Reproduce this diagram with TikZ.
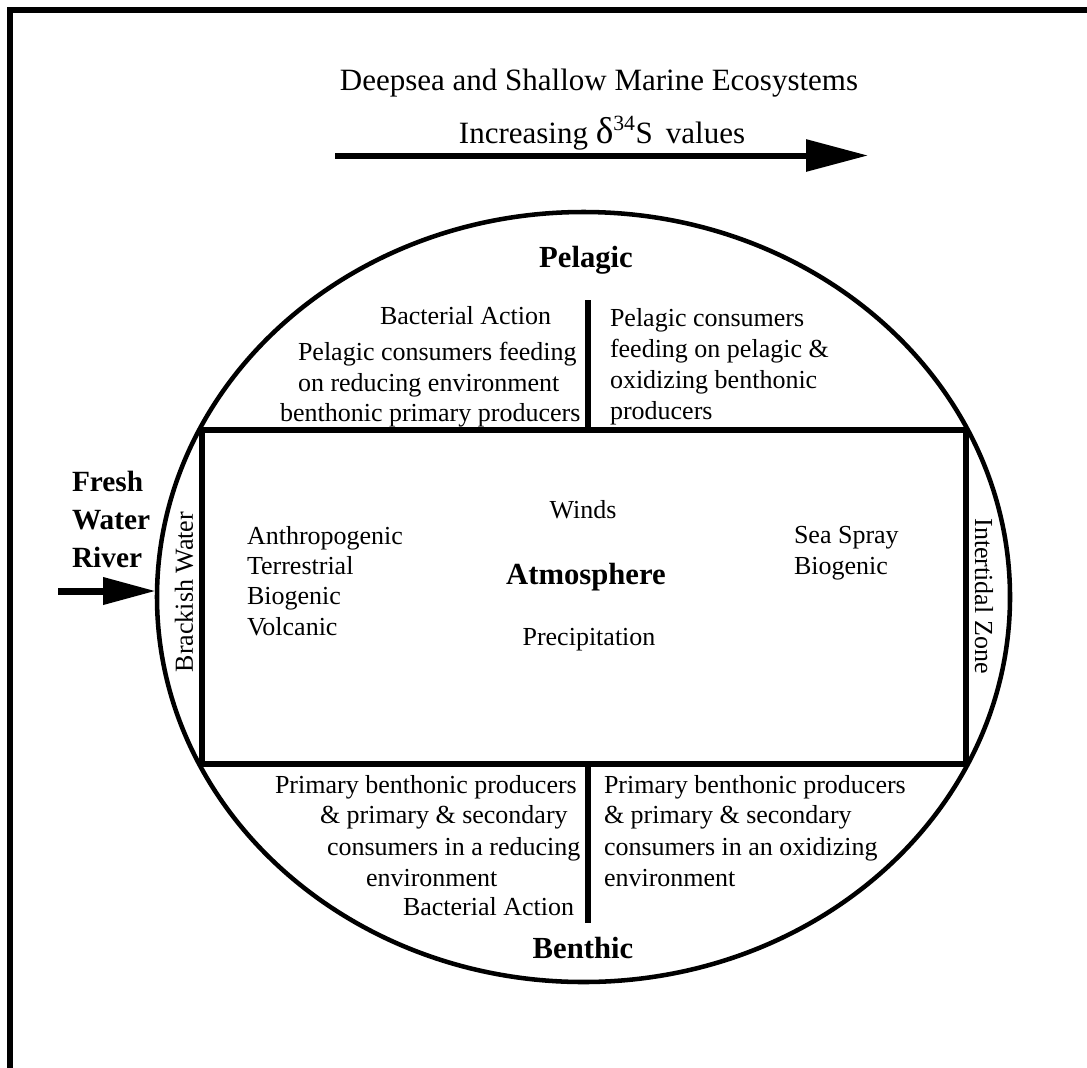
\documentclass[tikz,border=0pt]{standalone}
\usepackage{fontspec}
\setmainfont{Liberation Serif}
\usetikzlibrary{arrows.meta}
\begin{document}
\begin{tikzpicture}[x=0.75pt,y=-0.75pt,
  reg/.style={font=\fontsize{19.5}{23}\selectfont, inner sep=0pt, outer sep=0pt},
  headb/.style={font=\fontsize{23}{27}\selectfont\bfseries, inner sep=0pt, outer sep=0pt},
  riverb/.style={font=\fontsize{22}{27}\selectfont\bfseries, inner sep=0pt, outer sep=0pt},
  ttl/.style={font=\fontsize{23.25}{28}\selectfont, inner sep=0pt, outer sep=0pt},
  frameline/.style={line width=4.5pt},
  ringline/.style={line width=3.4pt},
  boxline/.style={line width=4.5pt},
  divline/.style={line width=3.8pt},
  bigarrow/.style={line width=4.5pt, -{Triangle[length=46.5pt,width=23.25pt]}},
  riverarrow/.style={line width=5.25pt, -{Triangle[length=39.75pt,width=19.5pt]}}]
\useasboundingbox (0,0) rectangle (1087,1067);
\fill[white] (0,0) rectangle (1087,1067);
% outer frame (top and left edges visible)
\draw[frameline] (9.5,1075) -- (9.5,10) -- (1095,10);
% title and arrow
\node[ttl, anchor=base] (title) at (599,90) {Deepsea and Shallow Marine Ecosystems};
\node[ttl, anchor=base] (incr) at (602,143) {Increasing {\fontsize{28}{28}\selectfont δ}\textsuperscript{34}S\, values};
\coordinate (arrS) at (335,155.5);
\coordinate (arrE) at (868,155.5);
\draw[bigarrow] (arrS) -- (arrE);
% ellipse
\draw[ringline] (583.5,597) ellipse [x radius=426.5, y radius=385];
% atmosphere box
\coordinate (boxNW) at (202,430);
\coordinate (boxSE) at (966,764);
\draw[boxline] (boxNW) rectangle (boxSE);
% dividers
\coordinate (dtA) at (588,300);
\coordinate (dtB) at (588,430);
\coordinate (dbA) at (588,764);
\coordinate (dbB) at (588,923);
\draw[divline] (dtA) -- (dtB);
\draw[divline] (dbA) -- (dbB);
% river arrow
\coordinate (rivS) at (58,591);
\coordinate (rivE) at (156,591);
\draw[riverarrow] (rivS) -- (rivE);
\node[riverb, anchor=base west] (fresh) at (72,491) {Fresh};
\node[riverb, anchor=base west] (water) at (72,529) {Water};
\node[riverb, anchor=base west] (river) at (72,567) {River};
% rotated labels
\node[reg, rotate=90] (brack) at (184,592) {Brackish Water};
\node[reg, rotate=-90] (inter) at (984,596) {Intertidal Zone};
% pelagic
\node[headb, anchor=base] (pel) at (586,267) {Pelagic};
\node[reg, anchor=base west] (pl1) at (380,324) {Bacterial Action};
\node[reg, anchor=base west] (pl2) at (298,360) {Pelagic consumers feeding};
\node[reg, anchor=base west] (pl3) at (298,391) {on reducing environment};
\node[reg, anchor=base west] (pl4) at (280,421) {benthonic primary producers};
\node[reg, anchor=base west] (pr1) at (610,326) {Pelagic consumers};
\node[reg, anchor=base west] (pr2) at (610,357) {feeding on pelagic \&};
\node[reg, anchor=base west] (pr3) at (610,388) {oxidizing benthonic};
\node[reg, anchor=base west] (pr4) at (610,419) {producers};
% atmosphere
\node[reg, anchor=base] (winds) at (583,518) {Winds};
\node[headb, anchor=base] (atmo) at (586,584) {Atmosphere};
\node[reg, anchor=base] (prec) at (589,645) {Precipitation};
\node[reg, anchor=base west] (al1) at (247,544) {Anthropogenic};
\node[reg, anchor=base west] (al2) at (247,574) {Terrestrial};
\node[reg, anchor=base west] (al3) at (247,604) {Biogenic};
\node[reg, anchor=base west] (al4) at (247,635) {Volcanic};
\node[reg, anchor=base west] (ar1) at (794,543) {Sea Spray};
\node[reg, anchor=base west] (ar2) at (794,574) {Biogenic};
% benthic
\node[reg, anchor=base west] (bl1) at (275,793) {Primary benthonic producers};
\node[reg, anchor=base west] (bl2) at (320,823) {\& primary \& secondary};
\node[reg, anchor=base west] (bl3) at (327,855) {consumers in a reducing};
\node[reg, anchor=base west] (bl4) at (366,886) {environment};
\node[reg, anchor=base west] (bl5) at (403,915) {Bacterial Action};
\node[reg, anchor=base west] (br1) at (604,793) {Primary benthonic producers};
\node[reg, anchor=base west] (br2) at (604,823) {\& primary \& secondary};
\node[reg, anchor=base west] (br3) at (604,855) {consumers in an oxidizing};
\node[reg, anchor=base west] (br4) at (604,886) {environment};
\node[headb, anchor=base] (ben) at (583,958) {Benthic};
\end{tikzpicture}
\end{document}
